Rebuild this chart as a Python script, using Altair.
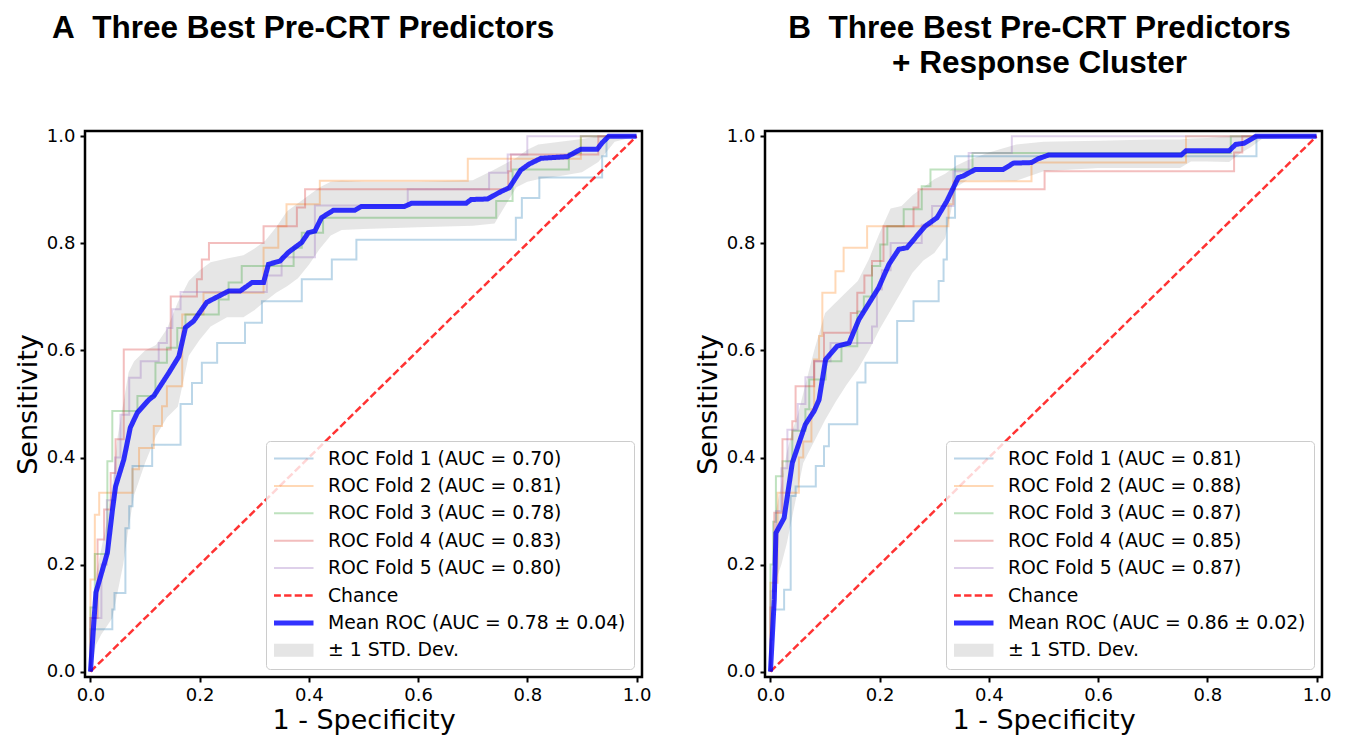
import altair as alt
import pandas as pd

# ---------------- data ----------------
CHANCE = [0.0, 1.0]

A_LABELS = ["ROC Fold 1 (AUC = 0.70)", "ROC Fold 2 (AUC = 0.81)", "ROC Fold 3 (AUC = 0.78)",
            "ROC Fold 4 (AUC = 0.83)", "ROC Fold 5 (AUC = 0.80)", "Chance",
            "Mean ROC (AUC = 0.78 \u00b1 0.04)", "\u00b1 1 STD. Dev."]
B_LABELS = ["ROC Fold 1 (AUC = 0.81)", "ROC Fold 2 (AUC = 0.88)", "ROC Fold 3 (AUC = 0.87)",
            "ROC Fold 4 (AUC = 0.85)", "ROC Fold 5 (AUC = 0.87)", "Chance",
            "Mean ROC (AUC = 0.86 \u00b1 0.02)", "\u00b1 1 STD. Dev."]

# Panel A folds (step corners: x of each vertical jump, tpr after the jump)
A_F1_FPR = [0, 0, 0.04, 0.044, 0.064, 0.071, 0.077, 0.113, 0.165, 0.186, 0.204, 0.232, 0.283, 0.314, 0.387, 0.442, 0.487, 0.779, 0.79, 0.822, 0.937, 0.945, 1.0]
A_F1_TPR = [0, 0.079, 0.116, 0.147, 0.268, 0.309, 0.384, 0.424, 0.50, 0.539, 0.577, 0.614, 0.652, 0.692, 0.733, 0.770, 0.807, 0.848, 0.885, 0.923, 0.963, 1.0, 1.0]
A_F2_FPR = [0, 0, 0.008, 0.016, 0.077, 0.089, 0.116, 0.131, 0.14, 0.168, 0.207, 0.317, 0.344, 0.359, 0.42, 0.691, 0.898, 1.0]
A_F2_TPR = [0, 0.172, 0.293, 0.334, 0.378, 0.418, 0.459, 0.496, 0.533, 0.667, 0.708, 0.792, 0.832, 0.873, 0.917, 0.958, 1.0, 1.0]
A_F3_FPR = [0, 0, 0.008, 0.031, 0.04, 0.086, 0.119, 0.14, 0.159, 0.174, 0.235, 0.253, 0.277, 0.372, 0.387, 0.426, 0.743, 0.773, 0.876, 0.898, 1.0]
A_F3_TPR = [0, 0.12, 0.22, 0.393, 0.487, 0.515, 0.577, 0.605, 0.642, 0.667, 0.695, 0.727, 0.758, 0.792, 0.820, 0.848, 0.879, 0.938, 0.969, 1.0, 1.0]
A_F4_FPR = [0, 0, 0.013, 0.025, 0.037, 0.046, 0.061, 0.147, 0.195, 0.204, 0.217, 0.317, 0.378, 0.393, 0.765, 0.77, 0.93, 1.0]
A_F4_TPR = [0, 0.1, 0.247, 0.303, 0.371, 0.434, 0.602, 0.701, 0.733, 0.770, 0.801, 0.832, 0.867, 0.901, 0.935, 0.966, 1.0, 1.0]
A_F5_FPR = [0, 0, 0.02, 0.03, 0.045, 0.055, 0.071, 0.092, 0.125, 0.14, 0.15, 0.165, 0.323, 0.35, 0.411, 0.581, 0.730, 0.764, 0.80, 1.0]
A_F5_TPR = [0, 0.1, 0.2, 0.32, 0.40, 0.48, 0.549, 0.580, 0.614, 0.642, 0.677, 0.709, 0.740, 0.774, 0.871, 0.901, 0.932, 0.966, 1.0, 1.0]

A_MEAN_FPR = [0, 0.01, 0.031, 0.04, 0.046, 0.061, 0.073, 0.086, 0.107, 0.116, 0.144, 0.162, 0.174, 0.189, 0.213,
              0.253, 0.274, 0.296, 0.317, 0.326, 0.347, 0.362, 0.387, 0.399, 0.411, 0.423, 0.445, 0.484, 0.496, 0.575,
              0.588, 0.688, 0.697, 0.727, 0.752, 0.767, 0.788, 0.803, 0.825, 0.873, 0.898, 0.928, 0.937, 0.949, 1.0]
A_MEAN_TPR = [0, 0.148, 0.222, 0.30, 0.346, 0.396, 0.456, 0.484, 0.508, 0.515, 0.559, 0.589, 0.643, 0.655, 0.690,
              0.711, 0.711, 0.727, 0.727, 0.761, 0.767, 0.783, 0.802, 0.82, 0.823, 0.848, 0.862, 0.862, 0.869, 0.869,
              0.875, 0.875, 0.882, 0.883, 0.897, 0.904, 0.937, 0.948, 0.959, 0.962, 0.976, 0.976, 0.988, 1.0, 1.0]

A_BAND_FPR = [0, 0.01, 0.02, 0.03, 0.04, 0.05, 0.06, 0.07, 0.08, 0.10, 0.12, 0.14, 0.16, 0.18, 0.20, 0.22, 0.25, 0.28, 0.30, 0.32,
              0.34, 0.36, 0.38, 0.40, 0.42, 0.44, 0.46, 0.50, 0.60, 0.70, 0.74, 0.78, 0.80, 0.82, 0.86, 0.90, 0.93, 0.96, 1.0]
A_BAND_HI = [0, 0.18, 0.23, 0.28, 0.35, 0.44, 0.50, 0.56, 0.58, 0.60, 0.61, 0.64, 0.69, 0.73, 0.75, 0.765, 0.772, 0.778, 0.79, 0.805,
             0.83, 0.86, 0.875, 0.89, 0.905, 0.915, 0.917, 0.915, 0.915, 0.918, 0.938, 0.96, 0.975, 0.985, 0.99, 0.995, 1.0, 1.0, 1.0]
A_BAND_LO = [0, 0.05, 0.07, 0.085, 0.10, 0.15, 0.20, 0.27, 0.33, 0.39, 0.44, 0.475, 0.495, 0.59, 0.62, 0.645, 0.662, 0.662, 0.675, 0.692,
             0.708, 0.72, 0.735, 0.76, 0.79, 0.815, 0.825, 0.827, 0.83, 0.833, 0.837, 0.905, 0.915, 0.92, 0.926, 0.933, 0.952, 0.99, 1.0]

# Panel B folds
B_F1_FPR = [0, 0, 0.004, 0.025, 0.037, 0.046, 0.083, 0.098, 0.107, 0.159, 0.174, 0.232, 0.262, 0.308, 0.317, 0.323, 0.338, 0.89, 1.0]
B_F1_TPR = [0, 0.06, 0.116, 0.153, 0.328, 0.346, 0.384, 0.421, 0.462, 0.540, 0.577, 0.655, 0.692, 0.730, 0.770, 0.848, 0.963, 1.0, 1.0]
B_F2_FPR = [0, 0, 0.013, 0.052, 0.06, 0.075, 0.08, 0.089, 0.095, 0.119, 0.134, 0.177, 0.326, 0.335, 0.478, 0.761, 1.0]
B_F2_TPR = [0, 0.166, 0.334, 0.40, 0.43, 0.49, 0.583, 0.627, 0.708, 0.748, 0.792, 0.832, 0.873, 0.916, 0.951, 1.0, 1.0]
B_F3_FPR = [0, 0, 0.005, 0.01, 0.022, 0.04, 0.064, 0.071, 0.101, 0.13, 0.159, 0.171, 0.186, 0.201, 0.214, 0.244, 0.277, 0.293, 0.37, 0.843, 1.0]
B_F3_TPR = [0, 0.2, 0.28, 0.365, 0.393, 0.45, 0.49, 0.546, 0.58, 0.608, 0.673, 0.701, 0.758, 0.798, 0.832, 0.864, 0.907, 0.938, 0.969, 1.0, 1.0]
B_F4_FPR = [0, 0, 0.007, 0.022, 0.04, 0.046, 0.08, 0.098, 0.147, 0.159, 0.172, 0.186, 0.207, 0.262, 0.271, 0.502, 0.849, 0.864, 1.0]
B_F4_TPR = [0, 0.12, 0.297, 0.434, 0.468, 0.533, 0.58, 0.633, 0.670, 0.708, 0.74, 0.767, 0.832, 0.867, 0.901, 0.935, 0.97, 1.0, 1.0]
B_F5_FPR = [0, 0, 0.01, 0.02, 0.031, 0.05, 0.064, 0.08, 0.11, 0.186, 0.195, 0.204, 0.22, 0.277, 0.296, 0.335, 0.363, 0.442, 1.0]
B_F5_TPR = [0, 0.15, 0.3, 0.38, 0.452, 0.5, 0.55, 0.58, 0.614, 0.645, 0.714, 0.75, 0.801, 0.835, 0.870, 0.935, 0.969, 1.0, 1.0]

B_MEAN_FPR = [0, 0.007, 0.01, 0.025, 0.04, 0.064, 0.08, 0.089, 0.101, 0.122, 0.144, 0.162, 0.198, 0.217, 0.235, 0.25, 0.283,
              0.305, 0.323, 0.344, 0.353, 0.375, 0.426, 0.445, 0.478, 0.49, 0.509, 0.752, 0.761, 0.840, 0.852, 0.867, 0.889, 1.0]
B_MEAN_TPR = [0, 0.135, 0.259, 0.287, 0.39, 0.462, 0.487, 0.508, 0.583, 0.608, 0.614, 0.658, 0.717, 0.761, 0.789, 0.792, 0.832,
              0.848, 0.879, 0.923, 0.926, 0.938, 0.938, 0.950, 0.951, 0.958, 0.965, 0.965, 0.973, 0.973, 0.985, 0.987, 1.0, 1.0]

B_BAND_FPR = [0, 0.01, 0.02, 0.03, 0.04, 0.05, 0.06, 0.08, 0.10, 0.12, 0.14, 0.16, 0.18, 0.20, 0.22, 0.24, 0.26, 0.28, 0.30, 0.32,
              0.34, 0.36, 0.40, 0.45, 0.50, 0.60, 0.70, 0.75, 0.77, 0.80, 0.84, 0.86, 0.88, 0.90, 1.0]
B_BAND_HI = [0, 0.30, 0.35, 0.41, 0.45, 0.48, 0.52, 0.60, 0.67, 0.69, 0.71, 0.73, 0.77, 0.82, 0.865, 0.87, 0.89, 0.905, 0.92, 0.93,
             0.945, 0.955, 0.97, 0.985, 0.99, 0.992, 0.994, 0.994, 0.996, 0.997, 1.0, 1.0, 1.0, 1.0, 1.0]
B_BAND_LO = [0, 0.17, 0.20, 0.24, 0.29, 0.34, 0.39, 0.43, 0.47, 0.505, 0.537, 0.565, 0.60, 0.64, 0.675, 0.71, 0.745, 0.768, 0.782, 0.81,
             0.905, 0.918, 0.918, 0.917, 0.935, 0.941, 0.941, 0.941, 0.953, 0.953, 0.952, 0.968, 0.98, 0.995, 1.0]

TICKS = [0.0, 0.2, 0.4, 0.6, 0.8, 1.0]

# ---------------- styles ----------------
STROKES = ["#1f77b4", "#ff7f0e", "#2ca02c", "#d62728", "#9467bd", "#ff0000", "#0000ff", "#808080"]
OPACITIES = [0.3, 0.3, 0.3, 0.3, 0.3, 0.8, 0.8, 0.2]
WIDTHS = [2, 2, 2, 2, 2, 2.5, 5, 13]
DASHES = [[1, 0], [1, 0], [1, 0], [1, 0], [1, 0], [7.4, 3.2], [1, 0], [1, 0]]
FONT = "DejaVu Sans"


def panel(labels, folds, mean_fpr, mean_tpr, band_fpr, band_lo, band_hi, title):
    fold_rows = []
    for k, (fx, fy) in enumerate(folds):
        for i, (a, b) in enumerate(zip(fx, fy)):
            fold_rows.append({"series": labels[k], "x": a, "y": b, "i": i})
    fold_df = pd.DataFrame(fold_rows)

    line_rows = [{"series": labels[5], "x": v, "y": v, "i": i} for i, v in enumerate(CHANCE)]
    line_rows += [{"series": labels[6], "x": a, "y": b, "i": i}
                  for i, (a, b) in enumerate(zip(mean_fpr, mean_tpr))]
    line_df = pd.DataFrame(line_rows)

    band_df = pd.DataFrame({"x": band_fpr, "lo": band_lo, "hi": band_hi})

    xs = alt.Scale(domain=[-0.01, 1.01], nice=False, zero=False)
    ys = alt.Scale(domain=[-0.01, 1.01], nice=False, zero=False)
    x_axis = alt.Axis(values=TICKS, format=".1f", title="1 - Specificity", grid=False, domain=False,
                      tickColor="black", tickWidth=2, tickSize=5, labelFont=FONT, labelFontSize=18,
                      labelColor="black", labelPadding=4, titleFont=FONT, titleFontSize=27,
                      titleFontWeight="normal", titleColor="black", titlePadding=3)
    y_axis = alt.Axis(values=TICKS, format=".1f", title="Sensitivity", grid=False, domain=False,
                      tickColor="black", tickWidth=2, tickSize=5, labelFont=FONT, labelFontSize=18,
                      labelColor="black", labelPadding=5, titleFont=FONT, titleFontSize=27,
                      titleFontWeight="normal", titleColor="black", titlePadding=4)

    legend = alt.Legend(title=None, orient="bottom-right", offset=8, fillColor="rgba(255,255,255,0.8)",
                        strokeColor="#cccccc", cornerRadius=4, padding=8, labelFont=FONT,
                        labelFontSize=18.8, labelColor="black", symbolType="M-2.4,0H5.6",
                        symbolSize=100, labelOffset=31, rowPadding=7.4, clipHeight=19,
                        labelLimit=600)

    enc = dict(
        x=alt.X("x:Q", scale=xs, axis=x_axis),
        y=alt.Y("y:Q", scale=ys, axis=y_axis),
        stroke=alt.Stroke("series:N", scale=alt.Scale(domain=labels, range=STROKES), legend=legend),
        strokeDash=alt.StrokeDash("series:N", scale=alt.Scale(type="ordinal", domain=labels, range=DASHES), legend=legend),
        strokeWidth=alt.StrokeWidth("series:N", scale=alt.Scale(type="ordinal", domain=labels, range=WIDTHS), legend=legend),
        opacity=alt.Opacity("series:N", scale=alt.Scale(type="ordinal", domain=labels, range=OPACITIES), legend=legend),
        order=alt.Order("i:Q"),
    )

    band = alt.Chart(band_df).mark_area(color="#808080", opacity=0.2).encode(
        x=alt.X("x:Q", scale=xs, axis=x_axis),
        y=alt.Y("lo:Q", scale=ys, axis=y_axis),
        y2="hi:Q",
    )
    fold_lines = alt.Chart(fold_df).mark_line(interpolate="step-after").encode(**enc)
    main_lines = alt.Chart(line_df).mark_line().encode(**enc)

    return alt.layer(band, fold_lines, main_lines).properties(width=557, height=546, title=title)


title_a = alt.TitleParams(text=["A\u00a0 Three Best Pre-CRT Predictors", " "], anchor="start", frame="group",
                          dx=-33, fontSize=31.5, font="Liberation Sans", fontWeight="bold", color="black",
                          lineHeight=35, offset=15, baseline="bottom")
title_b = alt.TitleParams(text=["B\u00a0 Three Best Pre-CRT Predictors", "+ Response Cluster"], anchor="middle",
                          frame="group", dx=-4, fontSize=31.5, font="Liberation Sans", fontWeight="bold",
                          color="black", lineHeight=35, offset=15, baseline="bottom")

pa = panel(A_LABELS, [(A_F1_FPR, A_F1_TPR), (A_F2_FPR, A_F2_TPR), (A_F3_FPR, A_F3_TPR),
                      (A_F4_FPR, A_F4_TPR), (A_F5_FPR, A_F5_TPR)],
           A_MEAN_FPR, A_MEAN_TPR, A_BAND_FPR, A_BAND_LO, A_BAND_HI, title_a)
pb = panel(B_LABELS, [(B_F1_FPR, B_F1_TPR), (B_F2_FPR, B_F2_TPR), (B_F3_FPR, B_F3_TPR),
                      (B_F4_FPR, B_F4_TPR), (B_F5_FPR, B_F5_TPR)],
           B_MEAN_FPR, B_MEAN_TPR, B_BAND_FPR, B_BAND_LO, B_BAND_HI, title_b)

chart = alt.hconcat(pa, pb, spacing=40).resolve_scale(
    x="independent", y="independent", stroke="independent", strokeDash="independent",
    strokeWidth="independent", opacity="independent"
).resolve_legend(
    stroke="independent", strokeDash="independent", strokeWidth="independent", opacity="independent"
).properties(
    padding={"left": 5, "top": 3, "right": 5, "bottom": 5}, background="white"
).configure_view(stroke="black", strokeWidth=2.5)

chart.save("out.html", embed_options={"renderer": "svg", "actions": False})
